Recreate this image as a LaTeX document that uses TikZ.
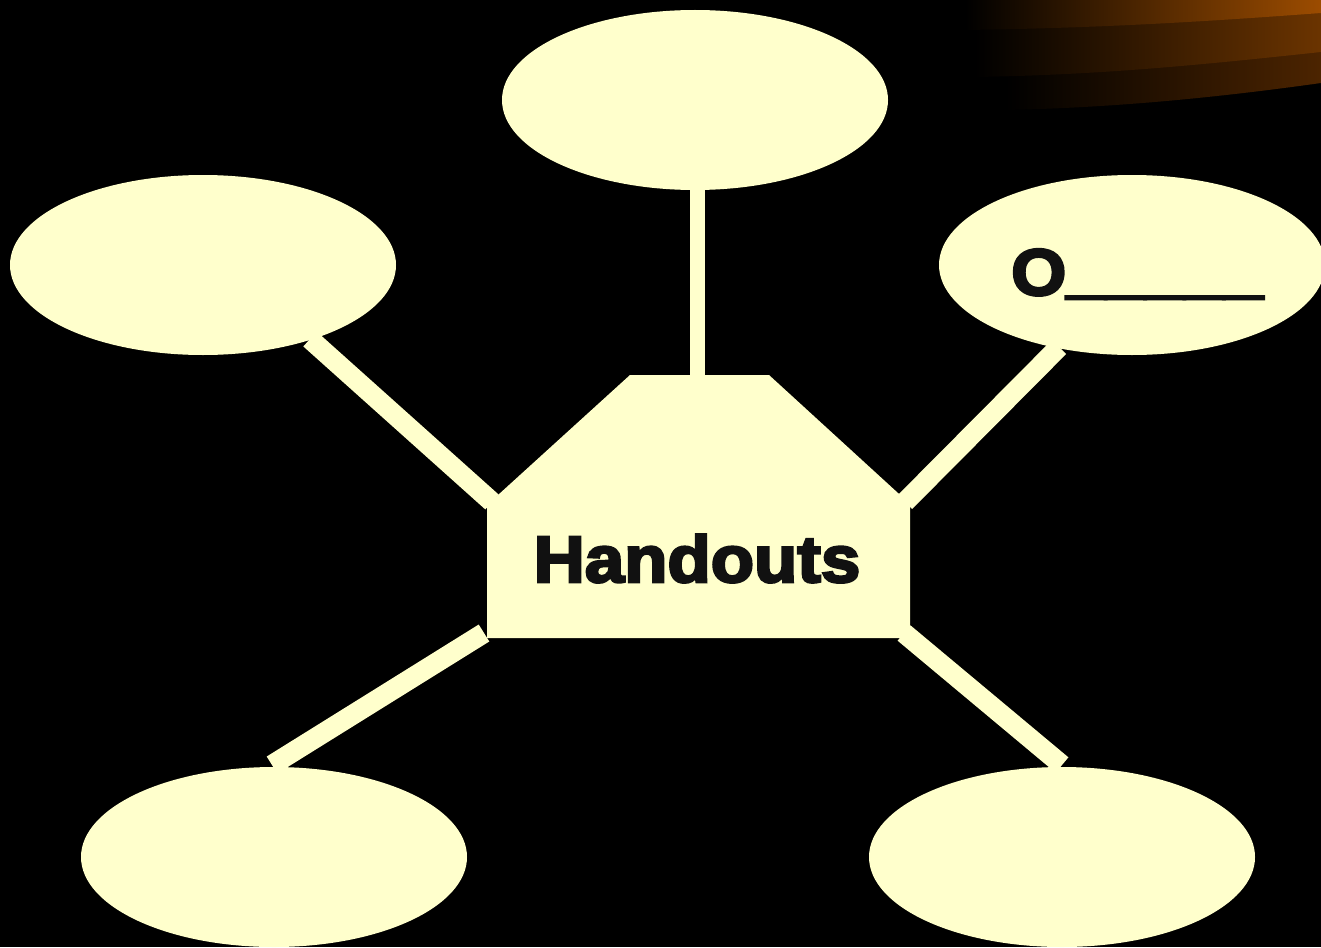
\documentclass[tikz,border=0pt]{standalone}
\usepackage{fontspec}
\newfontfamily\heavy{Liberation Sans}[BoldFeatures={FakeBold=4,FakeStretch=1.08}]
\usetikzlibrary{shapes.geometric}
\definecolor{cream}{HTML}{FFFFCC}
\definecolor{ink}{HTML}{111111}
\definecolor{rust1}{HTML}{9C4C00}
\definecolor{rust2}{HTML}{6B3400}
\definecolor{rust3}{HTML}{4C2400}
\begin{document}
\begin{tikzpicture}[x=1pt,y=-1pt,
  bubble/.style={ellipse, fill=cream, minimum width=386pt, minimum height=180pt, inner sep=0pt},
  spoke/.style={draw=cream, line width=20pt, line cap=butt},
  label/.style={font=\heavy\bfseries\fontsize{65.6}{70}\selectfont, text=ink, inner sep=0pt}]
\fill[black] (0,0) rectangle (1321,947);
\useasboundingbox (0,0) rectangle (1321,947);
% swoosh in the corner
\shade[left color=black, right color=rust3] (1005,0) -- (1321,0) -- (1321,83) .. controls (1200,100) and (1100,108) .. (1005,110) -- cycle;
\shade[left color=black, right color=rust2] (975,0) -- (1321,0) -- (1321,52) .. controls (1200,65) and (1100,75) .. (975,77) -- cycle;
\shade[left color=black, right color=rust1] (965,0) -- (1321,0) -- (1321,13) .. controls (1200,22) and (1100,28) .. (965,30) -- cycle;
% spoke ends
\coordinate (hubN) at (697,376);
\coordinate (hubNW) at (492,502);
\coordinate (hubNE) at (905,502);
\coordinate (hubSW) at (484,633);
\coordinate (hubSE) at (904,633);
\coordinate (topS) at (697,186);
\coordinate (leftS) at (310,339);
\coordinate (rightS) at (1059,347);
\coordinate (lowleftN) at (272,765);
\coordinate (lowrightN) at (1062,765);
\draw[spoke, line width=15pt] (hubN) -- (topS);
\draw[spoke] (hubNW) -- (leftS);
\draw[spoke] (hubNE) -- (rightS);
\draw[spoke] (hubSW) -- (lowleftN);
\draw[spoke] (hubSE) -- (lowrightN);
% bubbles
\node[bubble] (top) at (695,100) {};
\node[bubble] (left) at (203,265) {};
\node[bubble] (right) at (1132,265) {};
\node[bubble] (lowleft) at (274,857) {};
\node[bubble] (lowright) at (1062,857) {};
% hub
\fill[cream] (630,375) -- (769,375) -- (910,504) -- (910,638) -- (487,638) -- (487,505) -- cycle;
\node[label, anchor=base] (hub) at (697,582) {Handouts};
\node[label, anchor=base west] (blank) at (1011,295) {O\raisebox{4pt}{\_\_\_\_\_}};
\end{tikzpicture}
\end{document}
